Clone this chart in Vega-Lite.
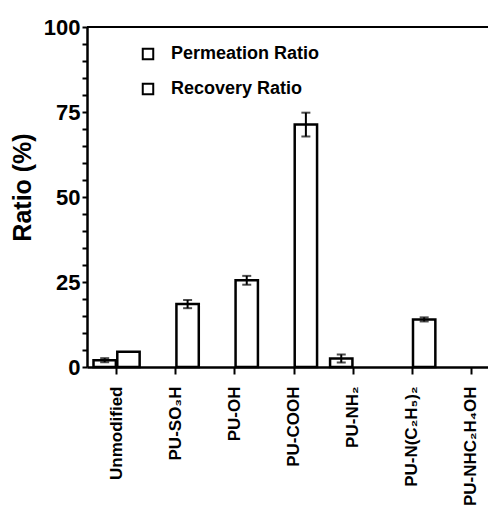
{
  "$schema": "https://vega.github.io/schema/vega-lite/v6.json",
  "width": 401,
  "height": 340,
  "autosize": {"type": "none"},
  "padding": {"left": 87, "top": 27, "right": 0, "bottom": 152},
  "background": "white",
  "config": {"view": {"stroke": null}, "font": "Liberation Sans"},
  "datasets": {
    "bars": [
      {"cat": "Unmodified", "series": "Permeation Ratio", "ratio": 2.0, "lo": 1.4, "hi": 2.6},
      {"cat": "Unmodified", "series": "Recovery Ratio", "ratio": 4.5},
      {"cat": "PU-SO₃H", "series": "Recovery Ratio", "ratio": 18.5, "lo": 17.3, "hi": 19.7},
      {"cat": "PU-OH", "series": "Recovery Ratio", "ratio": 25.5, "lo": 24.2, "hi": 26.8},
      {"cat": "PU-COOH", "series": "Recovery Ratio", "ratio": 71.3, "lo": 67.8, "hi": 74.8},
      {"cat": "PU-NH₂", "series": "Permeation Ratio", "ratio": 2.5, "lo": 1.3, "hi": 3.7},
      {"cat": "PU-N(C₂H₅)₂", "series": "Recovery Ratio", "ratio": 14.0, "lo": 13.4, "hi": 14.6}
    ]
  },
  "resolve": {"axis": {"y": "independent"}},
  "layer": [
    {
      "data": {"name": "bars"},
      "mark": {"type": "bar", "stroke": "black", "strokeWidth": 2.5},
      "encoding": {
        "x": {
          "field": "cat", "type": "nominal", "sort": null,
          "scale": {
            "domain": ["Unmodified", "PU-SO₃H", "PU-OH", "PU-COOH", "PU-NH₂", "PU-N(C₂H₅)₂", "PU-NHC₂H₄OH"],
            "range": [0, 414], "paddingInner": 0.22, "paddingOuter": 0.11
          },
          "axis": {
            "title": null, "labelAngle": -90, "labelFontSize": 17, "labelFontWeight": "bold",
            "labelColor": "black", "labelPadding": 12, "tickSize": 7, "tickWidth": 2,
            "tickColor": "black", "domainColor": "black", "domainWidth": 2.5
          }
        },
        "xOffset": {"field": "series", "type": "nominal", "scale": {"domain": ["Permeation Ratio", "Recovery Ratio"], "paddingInner": 0.06}},
        "y": {
          "field": "ratio", "type": "quantitative",
          "scale": {"domain": [0, 100], "nice": false},
          "axis": {
            "orient": "left",
            "title": "Ratio (%)", "titleFontSize": 25, "titleFontWeight": "bold", "titleColor": "black",
            "titleX": -57, "titleY": 160, "titleBaseline": "alphabetic", "titleAlign": "center", "titleAngle": -90,
            "values": [0, 5, 10, 15, 20, 25, 30, 35, 40, 45, 50, 55, 60, 65, 70, 75, 80, 85, 90, 95, 100],
            "labelExpr": "datum.value % 25 === 0 ? datum.label : ''",
            "labelOverlap": false, "labelFlush": false,
            "labelFontSize": 22, "labelFontWeight": "bold", "labelColor": "black", "labelPadding": 2,
            "tickSize": 5, "tickWidth": 2, "tickColor": "black",
            "domainColor": "black", "domainWidth": 2.5, "grid": false
          }
        },
        "fill": {
          "field": "series", "type": "nominal",
          "scale": {"domain": ["Permeation Ratio", "Recovery Ratio"], "range": ["white", "white"]},
          "legend": {
            "orient": "none", "legendX": 52, "legendY": 18, "title": null,
            "labelFontSize": 18, "labelFontWeight": "bold", "labelColor": "black", "labelOffset": 14,
            "symbolType": "square", "symbolSize": 110, "symbolStrokeColor": "black", "symbolStrokeWidth": 2,
            "symbolFillColor": "white", "rowPadding": 15
          }
        }
      }
    },
    {
      "data": {"name": "bars"},
      "transform": [{"filter": "isValid(datum.lo)"}],
      "mark": {"type": "rule", "color": "black", "strokeWidth": 2},
      "encoding": {
        "x": {"field": "cat", "type": "nominal", "sort": null},
        "xOffset": {"field": "series", "type": "nominal"},
        "y": {"field": "lo", "type": "quantitative", "axis": null},
        "y2": {"field": "hi"}
      }
    },
    {
      "data": {"name": "bars"},
      "transform": [{"filter": "isValid(datum.lo)"}],
      "mark": {"type": "tick", "color": "black", "thickness": 2, "size": 9},
      "encoding": {
        "x": {"field": "cat", "type": "nominal", "sort": null},
        "xOffset": {"field": "series", "type": "nominal"},
        "y": {"field": "lo", "type": "quantitative", "axis": null}
      }
    },
    {
      "data": {"name": "bars"},
      "transform": [{"filter": "isValid(datum.lo)"}],
      "mark": {"type": "tick", "color": "black", "thickness": 2, "size": 9},
      "encoding": {
        "x": {"field": "cat", "type": "nominal", "sort": null},
        "xOffset": {"field": "series", "type": "nominal"},
        "y": {"field": "hi", "type": "quantitative", "axis": null}
      }
    },
    {
      "data": {"values": [{}]},
      "mark": {"type": "rule", "color": "black", "strokeWidth": 2},
      "encoding": {"y": {"datum": 100, "axis": null}}
    }
  ]
}
